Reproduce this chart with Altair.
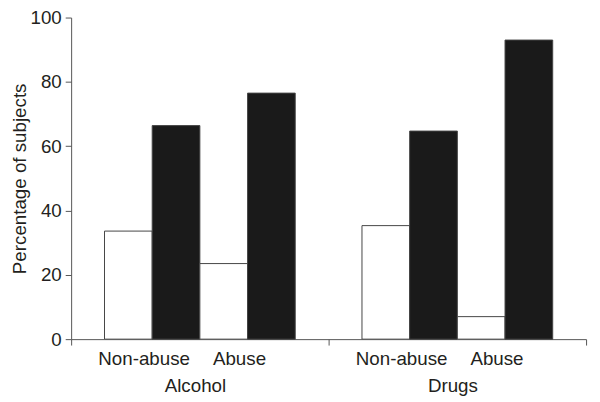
import altair as alt
import pandas as pd

FONT = "Liberation Sans"
TEXT_COLOR = "#231f20"
AXIS_COLOR = "#555555"

substances = ["Alcohol", "Drugs"]
statuses = ["Non-abuse", "Abuse"]
series = ["Series 1", "Series 2"]
# order: Alcohol Non-abuse, Alcohol Abuse, Drugs Non-abuse, Drugs Abuse
series1_values = [33.6, 23.5, 35.3, 7.0]
series2_values = [66.4, 76.5, 64.7, 93.0]
y_ticks = [0, 5, 10, 15, 20, 25, 30, 35, 40, 45, 50, 55, 60, 65, 70, 75, 80, 85, 90, 95, 100]

rows = []
i = 0
for sub in substances:
    for st in statuses:
        for s, vals in zip(series, [series1_values, series2_values]):
            rows.append({"substance": sub, "status": st, "series": s,
                         "slot": f"{st} / {s}", "value": vals[i]})
        i += 1
df = pd.DataFrame(rows)
slot_order = [f"{st} / {s}" for st in statuses for s in series]

labels_df = pd.DataFrame([
    {"substance": sub, "status": st, "slot": f"{st} / {series[0]}"}
    for sub in substances for st in statuses
])

x_enc = alt.X(
    "substance:N", sort=substances, title=None,
    scale=alt.Scale(paddingInner=0, paddingOuter=0),
    axis=alt.Axis(tickBand="extent", labelAngle=0, labelFontSize=19, labelFont=FONT,
                  labelColor=TEXT_COLOR, labelPadding=32, labelOffset=-5, tickSize=6,
                  domainColor=AXIS_COLOR, tickColor=AXIS_COLOR, grid=False),
)
xo_enc = alt.XOffset("slot:N", sort=slot_order,
                     scale=alt.Scale(paddingInner=0, paddingOuter=0.7))
y_scale = alt.Scale(domain=[0, 100], nice=False)
y_axis = alt.Axis(
    values=y_ticks,
    labelExpr="datum.value % 20 === 0 ? datum.label : ''",
    tickSize={"condition": {"test": "datum.value % 20 === 0", "value": 6}, "value": 4},
    labelFontSize=19, labelFont=FONT, labelColor=TEXT_COLOR, labelPadding=4,
    titleFontSize=19, titleFont=FONT, titleColor=TEXT_COLOR, titleFontWeight="normal",
    titlePadding=1, domainColor=AXIS_COLOR, tickColor=AXIS_COLOR, grid=False,
)

bars = alt.Chart(df).mark_bar(stroke="#444444", strokeWidth=1).encode(
    x=x_enc,
    xOffset=xo_enc,
    y=alt.Y("value:Q", scale=y_scale, axis=y_axis, title="Percentage of subjects"),
    color=alt.Color("series:N", scale=alt.Scale(domain=series, range=["#ffffff", "#1a1a1a"]),
                    legend=None),
)

text = alt.Chart(labels_df).mark_text(
    dx=16, dy=26, baseline="alphabetic", fontSize=19, font=FONT, color=TEXT_COLOR
).encode(
    x=x_enc,
    xOffset=xo_enc,
    y=alt.datum(0, scale=y_scale),
    text="status:N",
)

chart = alt.layer(bars, text).properties(
    width=522, height=326,
    autosize=alt.AutoSizeParams(type="none"),
    padding={"left": 64, "top": 7, "right": 6, "bottom": 58},
    background="white",
).configure_view(stroke=None)

chart.save("out.html", embed_options={"renderer": "svg", "actions": False})
